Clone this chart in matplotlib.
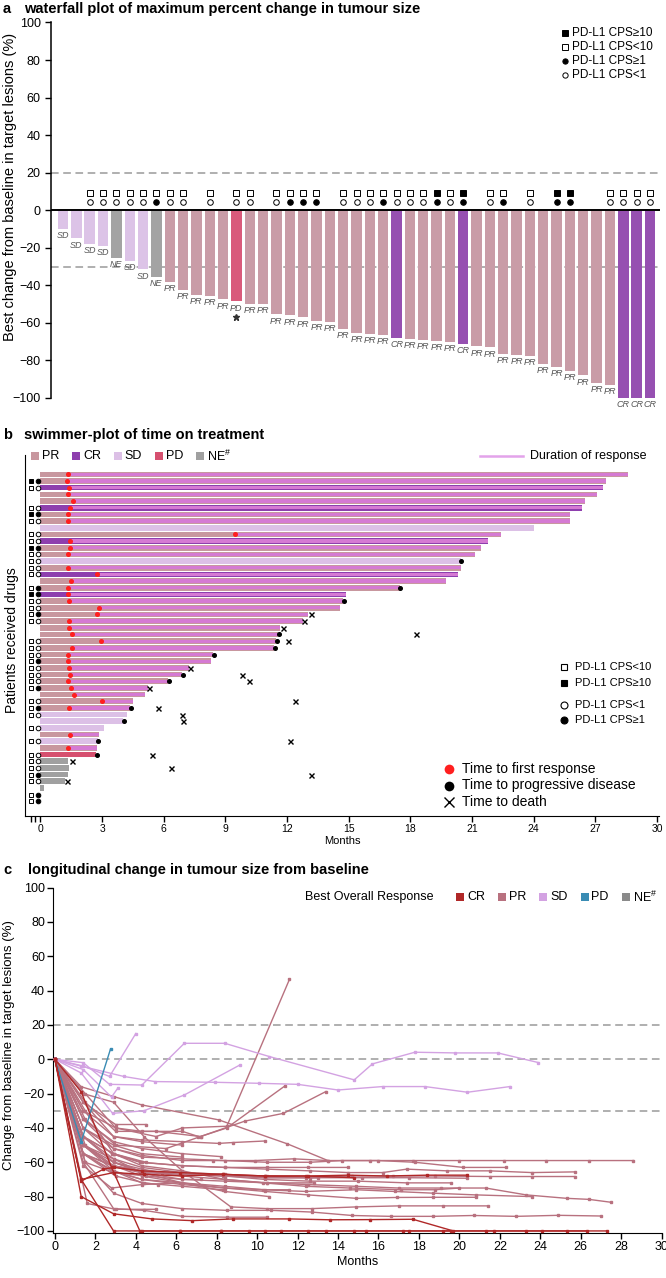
import numpy as np
import matplotlib
matplotlib.use('Agg')
import matplotlib.pyplot as plt
from matplotlib.lines import Line2D

plt.rcParams['font.family'] = ['Liberation Sans', 'DejaVu Sans']
plt.rcParams['mathtext.default'] = 'regular'
NARROW = ['Liberation Sans Narrow', 'Liberation Sans', 'DejaVu Sans']
nan = np.nan

# ---------------- a: waterfall ----------------
wf_resp = ['SD', 'SD', 'SD', 'SD', 'NE', 'SD', 'SD', 'NE', 'PR', 'PR', 'PR', 'PR', 'PR', 'PD', 'PR',
           'PR', 'PR', 'PR', 'PR', 'PR', 'PR', 'PR', 'PR', 'PR', 'PR', 'CR', 'PR', 'PR', 'PR', 'PR',
           'CR', 'PR', 'PR', 'PR', 'PR', 'PR', 'PR', 'PR', 'PR', 'PR', 'PR', 'PR', 'CR', 'CR', 'CR']
wf_change = [-10, -15, -18, -19, -25.5, -27, -31.5, -35.5, -38, -42.5, -45, -45.5, -47.5, -48.5, -50,
             -50, -55.5, -56, -57, -59, -59.5, -63.3, -65.4, -65.8, -66.3, -68, -68.6, -69, -69.5, -70,
             -71, -72.5, -73, -76.4, -77, -77.5, -82, -83.6, -85.7, -88, -92, -93, -100, -100, -100]
# 0 = not available, 1 = low (open), 2 = high (filled)
wf_cps10 = [0, 0, 1, 1, 1, 1, 1, 1, 1, 1, 0, 1, 0, 1, 1, 0, 1, 1, 1, 1, 0, 1, 1, 1, 1, 1, 1, 1, 2, 1,
            2, 0, 1, 1, 0, 1, 0, 2, 2, 0, 0, 1, 1, 1, 1]
wf_cps1 = [0, 0, 1, 1, 1, 1, 1, 2, 1, 1, 0, 1, 0, 1, 1, 0, 1, 2, 2, 2, 0, 1, 1, 1, 2, 1, 1, 1, 2, 1,
           2, 0, 1, 2, 0, 1, 0, 2, 2, 0, 0, 1, 1, 1, 1]

# ---------------- b: swimmer ----------------
sw_resp = ['PR', 'PR', 'CR', 'PR', 'PR', 'CR', 'PR', 'PR', 'SD', 'PR',
           'CR', 'PR', 'PR', 'SD', 'PR', 'CR', 'PR', 'PR', 'CR', 'PR',
           'PR', 'PR', 'PR', 'PR', 'PR', 'PR', 'PR', 'PR', 'PR', 'PR',
           'PR', 'PR', 'PR', 'PR', 'PR', 'PR', 'SD', 'SD', 'SD', 'PR',
           'SD', 'PR', 'PD', 'NE', 'NE', 'NE', 'NE', 'NE', 'NE', 'NE']
sw_end = [28.6, 27.5, 27.37, 27.1, 26.5, 26.36, 25.78, 25.75, 24.0, 22.42,
          21.8, 21.45, 21.16, 20.45, 20.45, 20.32, 19.75, 17.48, 14.86, 14.7,
          14.56, 13.02, 12.78, 11.65, 11.57, 11.45, 11.37, 8.41, 8.28, 7.24,
          6.87, 6.19, 5.25, 5.09, 4.49, 4.36, 4.23, 4.0, 3.08, 2.85,
          2.78, 2.74, 2.69, 1.36, 1.39, 1.36, 1.2, 0.18, 0.0, 0.0]
sw_first = [1.36, 1.28, 1.41, 1.36, 1.60, 1.44, 1.36, 1.36, nan, 9.46,
            1.44, 1.44, 1.36, nan, 1.33, 2.74, 1.47, 1.36, 1.36, 1.39,
            2.86, 2.74, 1.41, 1.41, 1.52, 2.95, 1.52, 1.33, 1.33, 1.39,
            1.44, 1.33, 1.47, 1.63, 2.98, 1.41, nan, nan, nan, 1.44,
            nan, 1.36, nan, nan, nan, nan, nan, nan, nan, nan]
sw_pd = [nan, nan, nan, nan, nan, nan, nan, nan, nan, nan,
         nan, nan, nan, 20.48, nan, nan, nan, 17.52, nan, 14.75,
         nan, nan, nan, nan, 11.62, 11.50, 11.42, 8.46, nan, nan,
         6.92, 6.24, nan, nan, nan, 4.40, nan, 4.05, nan, nan,
         2.82, nan, 2.74, nan, nan, nan, nan, nan, nan, nan]
sw_death = [nan, nan, nan, nan, nan, nan, nan, nan, nan, nan,
            nan, nan, nan, nan, nan, nan, nan, nan, nan, nan,
            nan, 13.16, 12.81, 11.81, 18.26, 12.05, nan, nan, nan, 7.30,
            9.83, 10.16, 5.30, nan, 12.39, 5.73, 6.87, 6.95, nan, nan,
            12.13, nan, 5.41, 1.52, 6.33, 13.16, 1.28, nan, nan, nan]
sw_cps10 = [0, 2, 1, 0, 0, 1, 2, 1, 0, 1,
            1, 2, 1, 1, 1, 1, 0, 1, 2, 1,
            1, 1, 1, 0, 0, 1, 1, 1, 1, 1,
            1, 1, 1, 0, 1, 1, 1, 0, 1, 0,
            1, 0, 1, 1, 1, 1, 1, 0, 1, 1]
sw_cps1 = [0, 2, 1, 0, 0, 1, 2, 1, 0, 1,
           1, 2, 1, 1, 1, 1, 0, 2, 2, 1,
           1, 2, 1, 0, 0, 1, 1, 1, 2, 1,
           1, 1, 2, 0, 1, 2, 1, 0, 1, 0,
           1, 0, 1, 1, 1, 2, 1, 0, 2, 2]

# ---------------- c: spider ----------------
c_resp = ['PR'] * 36 + ['SD'] * 5 + ['PD'] + ['CR'] * 5
c_month = [
    [0, 1.4, 2.9, 4.3, 6.3, 7.8, 9.9, 11.8, 13.5, 15.6, 17.7, 20.0, 22.2, 24.3, 26.4, 28.6],
    [0, 1.4, 2.9, 4.2, 6.3, 8.4, 10.5, 12.5, 14.9, 17.0, 19.1, 21.3, 23.3, 25.3, 26.4, 27.5],
    [0, 1.5, 2.9, 4.3, 6.3, 8.5, 10.7, 12.7, 14.7, 16.6, 18.7, 20.7, 22.8, 24.9, 27.0],
    [0, 1.4, 2.8, 4.2, 6.3, 8.4, 10.5, 12.6, 14.5, 16.2, 17.4, 19.4, 21.5, 23.6, 25.7],
    [0, 1.4, 2.8, 4.2, 6.3, 8.4, 10.5, 12.6, 14.7, 16.7, 18.8, 21.5, 23.6, 25.7],
    [0, 1.4, 2.8, 4.3, 6.3, 8.4, 10.3, 12.4, 14.9, 16.8, 18.7, 20.8, 23.6],
    [0, 1.4, 2.9, 4.3, 6.3, 8.4, 10.5, 12.6, 14.2, 16.0, 17.8, 20.2, 22.3],
    [0, 1.4, 2.9, 4.4, 6.3, 8.7, 10.5, 12.7, 14.9, 17.0, 19.2, 21.4],
    [0, 1.4, 2.9, 4.2, 6.2, 8.3, 10.4, 12.4, 15.2, 17.5, 20.4],
    [0, 1.4, 2.9, 4.3, 6.3, 8.4, 10.3, 12.4, 14.6, 17.1, 18.8, 20.0],
    [0, 1.4, 2.9, 4.3, 6.3, 8.4, 10.4, 12.6, 15.0, 17.4, 19.6],
    [0, 1.5, 2.9, 4.3, 6.3, 8.4, 10.4, 12.5, 14.9, 16.9, 18.7, 20.8],
    [0, 1.4, 2.9, 4.3, 6.3, 8.4, 10.5, 12.5, 14.5],
    [0, 1.5, 3.0, 5.0, 7.2, 9.4, 11.3, 13.4],
    [0, 1.5, 3.0, 5.5, 7.2, 8.5, 11.4],
    [0, 1.5, 3.0, 5.0, 6.3, 8.5, 11.6],
    [0, 1.3, 2.9, 4.3, 8.1, 11.5, 13.5],
    [0, 1.4, 2.9, 4.3, 6.3, 8.1, 8.8, 10.4],
    [0, 1.4, 2.9, 4.3, 6.3, 8.2],
    [0, 1.4, 3.0, 4.5],
    [0, 1.4, 3.0, 4.3, 6.3, 7.1],
    [0, 1.4, 2.9, 4.3, 6.3],
    [0, 1.4, 2.8, 4.3, 6.3, 8.4, 10.4, 13.0],
    [0, 1.4, 2.9, 4.3, 6.3, 8.4, 10.5, 12.8],
    [0, 1.4, 2.9, 4.3, 6.3, 8.4, 10.4, 11.6],
    [0, 1.4, 2.9, 4.3, 6.3, 8.4, 10.6],
    [0, 1.4, 2.9, 4.4, 6.3, 8.5, 10.5],
    [0, 1.4, 2.9, 4.3, 6.3, 8.3],
    [0, 1.5, 2.9, 4.5, 6.3, 7.2],
    [0, 1.4, 2.9, 4.3, 5.3],
    [0, 1.4, 3.0, 4.4, 5.1],
    [0, 1.5, 2.9, 4.5],
    [0, 1.4, 2.8, 4.3, 6.2],
    [0, 1.6, 3.0, 5.0],
    [0, 1.4, 2.8, 4.3],
    [0, 1.4, 2.9, 4.3, 6.3],
    # SD
    [0, 1.4, 2.7, 4.0],
    [0, 1.4, 2.7, 4.3, 6.4, 8.4, 10.6, 14.8, 15.7, 17.8, 19.8, 21.9, 23.9],
    [0, 1.3, 3.4, 4.95, 7.9, 10.1, 12.0, 14.0, 16.2, 18.3, 20.4, 22.5],
    [0, 1.3, 2.85, 4.4, 6.4, 9.15],
    [0, 1.4, 2.8, 3.1],
    # PD
    [0, 1.3, 2.75],
    # CR
    [0, 1.3, 2.9, 4.8, 6.8, 8.8, 11.6, 13.6, 15.6, 17.7, 19.7],
    [0, 1.3, 2.9, 4.4, 6.3, 8.3, 10.4, 12.5, 14.5, 16.4, 18.4, 20.4],
    [0, 1.3, 2.8, 4.2, 6.2, 8.2, 10.4, 12.5, 14.8, 17.2, 19.2, 21.3, 23.3, 25.3, 27.3],
    [0, 1.3, 2.9, 4.3, 6.2, 8.2, 9.6, 11.2, 13.4, 15.4, 17.5, 19.6, 21.7, 24.1, 26.3],
    [0, 1.3, 2.4, 2.9, 4.3, 6.2, 8.3, 10.4, 12.4, 14.8],
]
c_change = [
    [0, -35, -52, -56, -59, -59, -59, -58, -59, -59, -59, -59, -59, -59, -59, -59],
    [0, -45, -60, -65, -68, -70, -72, -73, -74, -75, -75, -75, -79, -81, -81.6, -83.3],
    [0, -60, -78, -84, -87, -88, -88, -89, -91, -91.5, -91.5, -91, -91.5, -90.9, -91.3],
    [0, -40, -55, -60, -62, -63, -64, -65, -66, -66, -64, -65, -65, -66, -65.6],
    [0, -50, -62, -66, -67, -68, -68, -69, -68, -68, -68, -68.3, -68.3, -68.3],
    [0, -55, -65, -70, -72, -74, -76, -77, -76, -77, -78, -79, -80],
    [0, -40, -52, -57, -58, -59, -60, -60, -59, -59, -60, -63, -63],
    [0, -20, -25, -45, -65, -86, -87, -87, -86, -85.4, -85.4, -85.4],
    [0, -55, -62, -65, -67, -68, -69, -69, -69, -69, -69.3],
    [0, -45, -55, -62, -65, -70, -72, -74, -75, -76, -76, -75],
    [0, -50, -58, -63, -66, -68, -70, -71, -71, -72, -72],
    [0, -50, -62, -68, -72, -75, -77, -79, -81, -80.5, -80.4, -80.4],
    [0, -45, -55, -60, -62, -63, -63, -63, -63],
    [0, -25, -42, -42, -45, -36, -31.5, -18.8],
    [0, -35, -50, -52, -45, -40, -15.3],
    [0, -20, -40, -45, -40, -39, 46.6],
    [0, -16, -21.7, -26.6, -35.3, -49.3, -59],
    [0, -30, -45, -47, -48, -49, -48.5, -47.6],
    [0, -35, -48, -52, -55, -56.7],
    [0, -25, -38, -38],
    [0, -30, -40, -42, -42, -45],
    [0, -40, -50, -55, -57],
    [0, -55, -62, -65, -66, -67, -69, -69],
    [0, -50, -60, -66, -70, -71, -72, -72],
    [0, -55, -65, -70, -73, -75, -76, -76],
    [0, -45, -58, -66, -72, -77, -80],
    [0, -60, -87, -88, -91.5, -92, -92],
    [0, -50, -65, -72, -74, -76],
    [0, -60, -66, -68, -70, -70],
    [0, -45, -60, -64, -66],
    [0, -55, -68, -72, -73],
    [0, -30, -55, -60],
    [0, -62, -75, -73, -72],
    [0, -84, -87.4, -87.4],
    [0, -50, -62, -65],
    [0, -25, -45, -48, -50],
    # SD
    [0, -4, -10, 15],
    [0, -2, -14.6, -15, 9.3, 9.3, 1.6, -12, -2.7, 4.1, 3.7, 3.7, -1.9],
    [0, -4, -10, -13, -13.4, -14, -14.6, -17.9, -15.9, -15.9, -19.2, -15.9],
    [0, -8, -31.5, -30, -20.8, -3.3],
    [0, -6, -22, -17],
    # PD
    [0, -48, 6],
    # CR
    [0, -80, -90, -93, -94, -93, -93, -93.5, -93.4, -93.2, -100],
    [0, -70, -66, -67, -68, -67, -68, -68, -67.5, -68, -67.5, -67.5],
    [0, -19, -63, -100, -100, -100, -100, -100, -100, -100, -100, -100, -100, -100, -100],
    [0, -70, -100, -100, -100, -100, -100, -100, -100, -100, -100, -100, -100, -100, -100],
    [0, -71, -64, -63, -65, -66, -67, -68, -68, -69],
]

W, H = 666, 1278
fig = plt.figure(figsize=(W / 100, H / 100), dpi=100)


def fx(x):
    return x / W


def fy(y):
    return 1 - y / H


def rect(l, t, r, b):
    return [fx(l), fy(b), fx(r) - fx(l), fy(t) - fy(b)]


def fmark(x, y, marker, face, ms, color='black', mew=0.8):
    fig.add_artist(Line2D([fx(x)], [fy(y)], marker=marker, ms=ms, mfc=face, mec=color, mew=mew,
                          ls='none', transform=fig.transFigure))


def ftext(x, y, s, size, **kw):
    fig.text(fx(x), fy(y), s, fontsize=size, va='center', **kw)


# ===== panel a =====
col_a = {'PR': '#c99ca7', 'CR': '#9650b1', 'SD': '#dcc3e7', 'NE': '#a3a3a3', 'PD': '#d95a7b'}
axa = fig.add_axes(rect(51, 22.5, 660, 398))
xa = np.arange(len(wf_change))
axa.bar(xa, wf_change, width=0.78, color=[col_a[r] for r in wf_resp], zorder=2)
axa.axhline(0, color='black', lw=1.4, zorder=3)
for yv in (20, -30):
    axa.axhline(yv, color='#9a9a9a', lw=1.1, ls=(0, (5, 3)), zorder=1)
for i, (v, r) in enumerate(zip(wf_change, wf_resp)):
    axa.text(i, v - 1.2, r, ha='center', va='top', fontsize=6.5, style='italic',
             color='#555555', clip_on=False)
    if r == 'PD':
        axa.plot(i, v - 8.5, marker='*', ms=4.5, color='#333333', clip_on=False)
    if wf_cps10[i]:
        axa.plot(i, 9.3, marker='s', ms=4, mec='black', mew=0.7,
                 mfc='black' if wf_cps10[i] == 2 else 'white')
    if wf_cps1[i]:
        axa.plot(i, 4.3, marker='o', ms=4, mec='black', mew=0.7,
                 mfc='black' if wf_cps1[i] == 2 else 'white')
axa.set_xlim(-0.9, 44.75)
axa.set_ylim(-100, 100)
axa.set_yticks(range(-100, 101, 20))
axa.set_xticks([])
for s in ('top', 'right', 'bottom'):
    axa.spines[s].set_visible(False)
axa.spines['left'].set_linewidth(1.1)
axa.tick_params(axis='y', labelsize=9, length=4, width=1)
ftext(10, 187, 'Best change from baseline in target lesions (%)', 10.5, rotation=90, ha='center')
ftext(3, 9, 'a', 10.5, fontweight='bold')
ftext(24, 9, 'waterfall plot of maximum percent change in tumour size', 10.5, fontweight='bold')
leg_a = [('s', 'black', 'PD-L1 CPS≥10'), ('s', 'white', 'PD-L1 CPS<10'),
         ('o', 'black', 'PD-L1 CPS≥1'), ('o', 'white', 'PD-L1 CPS<1')]
for k, (m, f, lab) in enumerate(leg_a):
    yy = 33.3 + k * 14
    fmark(565, yy, m, f, 3.8, mew=0.7)
    ftext(572, yy, lab, 8.5)

# ===== panel b =====
col_b = {'PR': '#c8979f', 'CR': '#8e3fae', 'SD': '#dcc0e6', 'PD': '#d6506f', 'NE': '#a0a0a0'}
dor_col = '#d57ad3'
axb = fig.add_axes(rect(25, 455, 659, 816))
rows = np.arange(1, len(sw_end) + 1)
end = np.array(sw_end)
first = np.array(sw_first)
axb.barh(rows, end, height=0.84, color=[col_b[r] for r in sw_resp], zorder=2)
m = ~np.isnan(first)
axb.barh(rows[m], end[m] - first[m], left=first[m], height=0.5, color=dor_col, zorder=3)
axb.plot(sw_first, rows, 'o', color='#ff1f1f', ms=2.6, zorder=5)
axb.plot(sw_pd, rows, 'o', color='black', ms=2.6, zorder=5)
axb.plot(sw_death, rows, 'x', color='black', ms=3.6, mew=1.0, zorder=5)
for i in range(len(rows)):
    if sw_cps10[i]:
        axb.plot(-0.46, rows[i], 's', ms=3.3, mec='black', mew=0.7,
                 mfc='black' if sw_cps10[i] == 2 else 'white')
    if sw_cps1[i]:
        axb.plot(-0.13, rows[i], 'o', ms=3.3, mec='black', mew=0.7,
                 mfc='black' if sw_cps1[i] == 2 else 'white')
axb.set_xlim(-0.75, 30.1)
axb.set_ylim(52.2, -1.9)
axb.set_yticks([])
axb.set_xticks(range(0, 31, 3))
axb.set_xticks([-0.48, -0.25], minor=True)
axb.tick_params(axis='x', which='both', length=4, width=1, labelsize=7.5, pad=2)
for t in axb.get_xticklabels():
    t.set_family(NARROW)
for s in ('top', 'right'):
    axb.spines[s].set_visible(False)
axb.set_xlabel('Months', fontsize=8, labelpad=1.5, family=NARROW)
ftext(12, 640, 'Patients received drugs', 10, rotation=90, ha='center')
ftext(3, 435, 'b', 10.5, fontweight='bold')
ftext(24, 435, 'swimmer-plot of time on treatment', 10.5, fontweight='bold')
for k, lab in enumerate(['PR', 'CR', 'SD', 'PD', 'NE']):
    xx = 35 + k * 41.3
    fmark(xx, 456, 's', col_b[lab], 5.5, color=col_b[lab], mew=0)
    ftext(xx + 7, 456, lab + ('$^{\\#}$' if lab == 'NE' else ''), 9)
fig.add_artist(Line2D([fx(480), fx(523)], [fy(456), fy(456)], color='#e3a3ea', lw=1.8,
                      transform=fig.transFigure))
ftext(530, 456, 'Duration of response', 9)
leg_b = [('s', 'white', 'PD-L1 CPS<10', 667), ('s', 'black', 'PD-L1 CPS≥10', 683),
         ('o', 'white', 'PD-L1 CPS<1', 705), ('o', 'black', 'PD-L1 CPS≥1', 720)]
for mk, f, lab, yy in leg_b:
    fmark(563.5, yy, mk, f, 5, mew=0.8)
    ftext(575, yy, lab, 8)
fmark(449, 768.5, 'o', '#ff1f1f', 7, color='#ff1f1f', mew=0)
ftext(462, 768.5, 'Time to first response', 10)
fmark(449, 785.5, 'o', 'black', 7, mew=0)
ftext(462, 785.5, 'Time to progressive disease', 10)
fmark(449, 802, 'x', 'black', 7, mew=1.0)
ftext(462, 802, 'Time to death', 10)

# ===== panel c =====
col_c = {'CR': '#b02828', 'PR': '#b8717f', 'SD': '#d3a2e2', 'PD': '#3a8cb4', 'NE': '#8a8a8a'}
axc = fig.add_axes(rect(53.3, 887.6, 662, 1233))
for grp in ('PR', 'SD', 'PD', 'CR'):
    for r, mo, ch in zip(c_resp, c_month, c_change):
        if r == grp:
            axc.plot(mo, ch, '-s', color=col_c[r], lw=1.0, ms=1.8, zorder=3)
for yv in (20, 0, -30):
    axc.axhline(yv, color='#9a9a9a', lw=1.1, ls=(0, (5, 3)), zorder=1)
axc.set_xlim(-0.08, 30.02)
axc.set_ylim(-101.2, 100)
axc.set_xticks(range(0, 31, 2))
axc.set_yticks(range(-100, 101, 20))
axc.tick_params(length=4, width=1, labelsize=9, pad=2)
for t in axc.get_xticklabels() + axc.get_yticklabels():
    t.set_family(NARROW)
for s in ('top', 'right'):
    axc.spines[s].set_visible(False)
axc.set_xlabel('Months', fontsize=9, labelpad=2, family=NARROW)
ftext(9, 1045, 'Change from baseline in target lesions (%)', 9.5, rotation=90, ha='center',
      family=NARROW)
ftext(3, 870, 'c', 10.5, fontweight='bold')
ftext(28, 870, 'longitudinal change in tumour size from baseline', 10.5, fontweight='bold')
ftext(305, 897, 'Best Overall Response', 9, family=NARROW)
for k, lab in enumerate(['CR', 'PR', 'SD', 'PD', 'NE']):
    xx = 460 + k * 41.5
    fmark(xx, 897, 's', col_c[lab], 5.5, color=col_c[lab], mew=0)
    ftext(xx + 7, 897, lab + ('$^{\\#}$' if lab == 'NE' else ''), 9, family=NARROW)

fig.savefig('out.png', dpi=100)
